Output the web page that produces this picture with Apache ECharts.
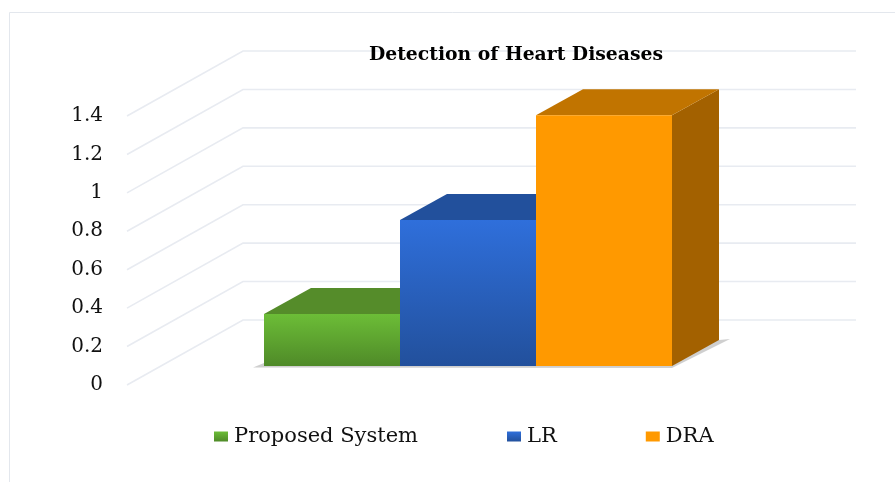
<!DOCTYPE html>
<html>
<head>
<meta charset="utf-8">
<title>Detection of Heart Diseases</title>
<style>
  html, body { margin: 0; padding: 0; background: #fff; }
  #chart { width: 895px; height: 482px; filter: blur(0.4px); }
</style>
<script src="https://cdn.jsdelivr.net/npm/echarts@6/dist/echarts.min.js"></script>
</head>
<body>
<div id="chart"></div>
<script>
const categories = ['Proposed System', 'LR', 'DRA']
const values = [0.27, 0.76, 1.305]
const yTicks = [0, 0.2, 0.4, 0.6, 0.8, 1, 1.2, 1.4]
const frontColors = [['#6cbd37', '#4f8a28'], ['#2f6fdb', '#22509c'], ['#ff9900', '#ff9900']]
const topColors = ['#558c2a', '#22509c', '#c17400']
const sideColors = ['#3f6e20', '#1a3d78', '#a36100']

// 3D depth of the floor and of a bar, in pixels
const floorDepth = [116, 65]
const barDepth = [47, 26]
const barInset = [34, 19]

const linear = (c) => new echarts.graphic.LinearGradient(0, 0, 0, 1, [
  { offset: 0, color: c[0] },
  { offset: 1, color: c[1] }
])

const poly = (points, fill) => ({
  type: 'polygon',
  shape: { points },
  style: { fill }
})

// wall and side gridlines
const renderWall = (params, api) => {
  const y = api.coord([0, api.value(0)])[1]
  const left = params.coordSys.x - 137
  const back = left + floorDepth[0]
  return {
    type: 'polyline',
    shape: { points: [[left, y], [back, y - floorDepth[1]], [856, y - floorDepth[1]]] },
    style: { fill: 'none', stroke: '#e8ebf1', lineWidth: 1.6 }
  }
}

// soft shadow under the whole row of bars
const renderShadow = (params, api) => {
  const y0 = api.coord([0, 0])[1] - barInset[1]
  const x0 = params.coordSys.x
  const x1 = x0 + params.coordSys.width
  return poly([
    [x0 - 11, y0 + 1.5],
    [x0, y0 - 3],
    [x1 + barDepth[0], y0 - barDepth[1]],
    [x1 + barDepth[0] + 11, y0 - barDepth[1] - 1],
    [x1, y0 + 2]
  ], '#cfcfcf')
}

const renderBar = (params, api) => {
  const i = api.value(0)
  const base = api.coord([i, 0])
  const tip = api.coord([i, api.value(1)])
  const w = api.size([1, 0])[0]
  const x0 = base[0] - w / 2
  const x1 = base[0] + w / 2
  const y0 = base[1] - barInset[1]
  const y1 = tip[1] - barInset[1]
  const dx = barDepth[0]
  const dy = barDepth[1]
  return {
    type: 'group',
    children: [
      poly([[x1, y0], [x1 + dx, y0 - dy], [x1 + dx, y1 - dy], [x1, y1]], sideColors[i]),
      poly([[x0, y1], [x0 + dx, y1 - dy], [x1 + dx, y1 - dy], [x1, y1]], topColors[i]),
      {
        type: 'rect',
        shape: { x: x0, y: y1, width: w, height: y0 - y1 },
        style: { fill: linear(frontColors[i]) }
      }
    ]
  }
}

const barSeries = categories.map((name, i) => ({
  name,
  type: 'custom',
  renderItem: renderBar,
  z: 3,
  itemStyle: { color: linear(frontColors[i]) },
  encode: { x: 0, y: 1 },
  data: [[i, values[i]]]
}))

const chart = echarts.init(document.getElementById('chart'))
chart.setOption({
  animation: false,
  backgroundColor: '#fff',
  title: {
    text: 'Detection of Heart Diseases',
    left: 511,
    top: 41,
    textAlign: 'center',
    textStyle: { fontFamily: 'DejaVu Serif', fontWeight: 'bold', fontSize: 18.8, color: '#000' }
  },
  legend: {
    data: categories,
    left: 209,
    top: 421,
    icon: 'rect',
    itemWidth: 14,
    itemHeight: 10,
    itemGap: 89,
    textStyle: { fontFamily: 'DejaVu Serif', fontSize: 21, color: '#111', padding: [0, 0, 0, 1] }
  },
  grid: { left: 264, right: 223, top: 116, bottom: 97 },
  xAxis: { type: 'category', data: categories, show: false },
  yAxis: {
    type: 'value',
    min: 0,
    max: 1.4,
    interval: 0.2,
    splitLine: { show: false },
    axisLine: { show: false },
    axisTick: { show: false },
    axisLabel: { margin: 161, fontFamily: 'DejaVu Serif', fontSize: 20, color: '#111' }
  },
  graphic: [
    {
      type: 'polyline',
      shape: { points: [[9.5, 482], [9.5, 12.5], [895, 12.5]] },
      style: { fill: 'none', stroke: '#e3e7ed', lineWidth: 1 }
    }
  ],
  series: [
    {
      name: 'wall',
      type: 'custom',
      renderItem: renderWall,
      silent: true,
      z: 1,
      encode: { y: 0 },
      data: yTicks.map((v) => [v])
    },
    {
      name: 'floor shadow',
      type: 'custom',
      renderItem: renderShadow,
      silent: true,
      z: 2,
      data: [[0]]
    },
    ...barSeries
  ]
})
</script>
</body>
</html>
